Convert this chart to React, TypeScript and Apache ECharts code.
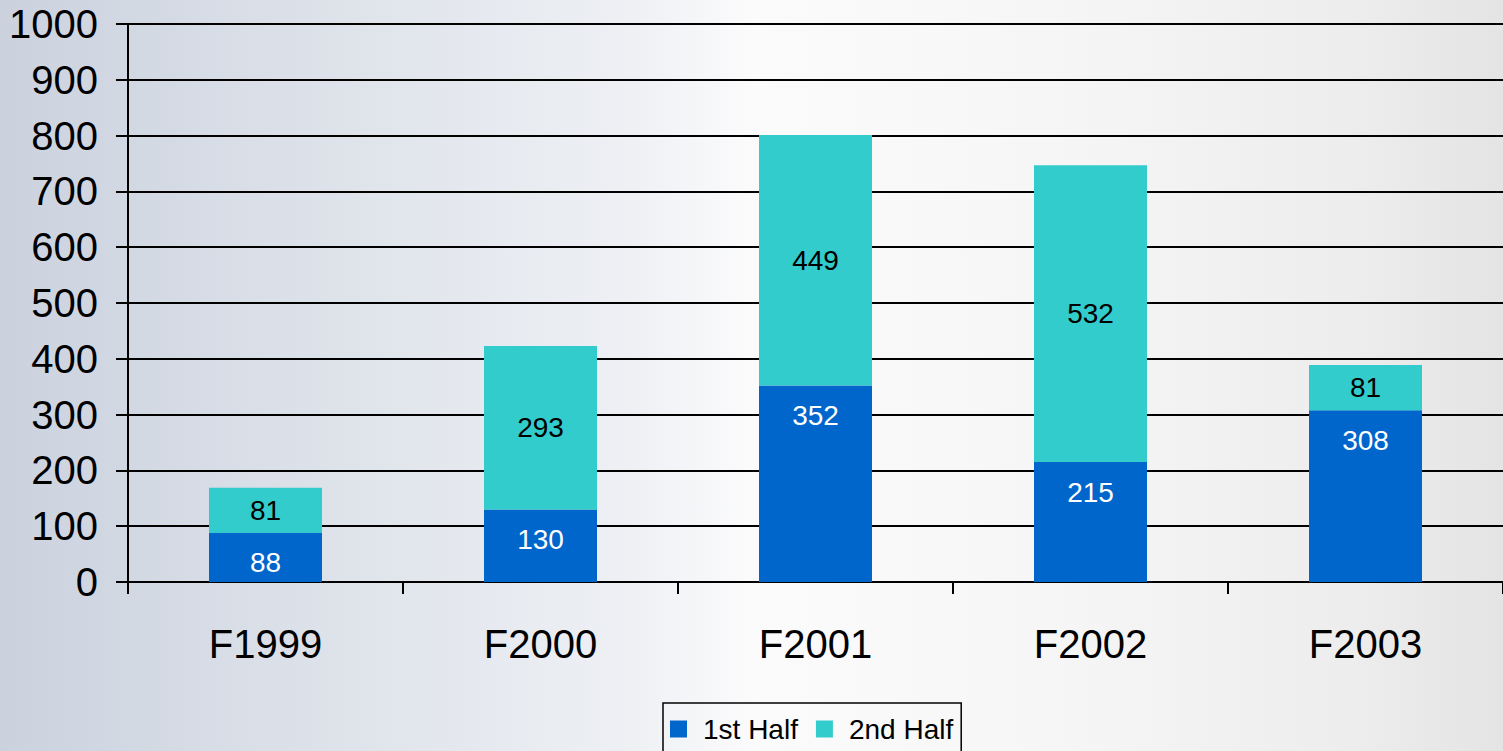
import React, { useEffect, useRef } from "react";
import * as echarts from "echarts";

const categories = ["F1999", "F2000", "F2001", "F2002", "F2003"];
const firstHalf = [88, 130, 352, 215, 308];
const secondHalf = [81, 293, 449, 532, 81];
const yTicks = { min: 0, max: 1000, interval: 100 };

const FONT = "'Liberation Sans', Arial, sans-serif";

export default function App() {
  const ref = useRef<HTMLDivElement>(null);

  useEffect(() => {
    if (!ref.current) return;
    const chart = echarts.init(ref.current, null, { renderer: "svg" });
    chart.setOption({
      animation: false,
      backgroundColor: {
        type: "linear",
        x: 0,
        y: 0,
        x2: 1,
        y2: 0,
        colorStops: [
          { offset: 0, color: "#cbd2de" },
          { offset: 0.2, color: "#dce1e9" },
          { offset: 0.42, color: "#eef0f4" },
          { offset: 0.5, color: "#fbfbfc" },
          { offset: 0.7, color: "#f6f6f6" },
          { offset: 0.9, color: "#ededed" },
          { offset: 1, color: "#e4e4e4" },
        ],
      },
      textStyle: { fontFamily: FONT },
      grid: { left: 128, right: 0, top: 24, bottom: 169, containLabel: false },
      legend: {
        top: 703,
        left: 663,
        itemWidth: 17,
        itemHeight: 17,
        itemGap: 18,
        icon: "rect",
        borderColor: "#000",
        borderWidth: 1.5,
        borderRadius: 0,
        padding: [12, 8, 24, 7],
        textStyle: {
          fontSize: 28,
          color: "#000",
          fontFamily: FONT,
          padding: [0, 0, 0, 11],
        },
        data: ["1st Half", "2nd Half"],
      },
      xAxis: {
        type: "category",
        data: categories,
        axisLine: { lineStyle: { color: "#000", width: 2 } },
        axisTick: { show: true, length: 12, lineStyle: { color: "#000", width: 2 } },
        axisLabel: { fontSize: 40, color: "#000", margin: 42, fontFamily: FONT },
      },
      yAxis: {
        type: "value",
        min: yTicks.min,
        max: yTicks.max,
        interval: yTicks.interval,
        axisLine: { show: true, lineStyle: { color: "#000", width: 2 } },
        axisTick: { show: true, length: 12, lineStyle: { color: "#000", width: 2 } },
        axisLabel: {
          fontSize: 40,
          color: "#000",
          margin: 30,
          fontFamily: FONT,
          formatter: (v: number) => String(v),
        },
        splitLine: { show: true, lineStyle: { color: "#000", width: 2 } },
      },
      series: [
        {
          name: "1st Half",
          type: "bar",
          stack: "total",
          data: firstHalf,
          barWidth: 113,
          itemStyle: { color: "#0066cc" },
          label: {
            show: true,
            position: "insideTop",
            distance: 16,
            color: "#fff",
            fontSize: 28,
            fontFamily: FONT,
          },
        },
        {
          name: "2nd Half",
          type: "bar",
          stack: "total",
          data: secondHalf,
          barWidth: 113,
          itemStyle: { color: "#33cccc" },
          label: {
            show: true,
            position: "inside",
            color: "#000",
            fontSize: 28,
            fontFamily: FONT,
          },
        },
      ],
    });
    return () => chart.dispose();
  }, []);

  return (
    <div
      ref={ref}
      style={{ position: "absolute", left: 0, top: 0, width: 1503, height: 751 }}
    />
  );
}
